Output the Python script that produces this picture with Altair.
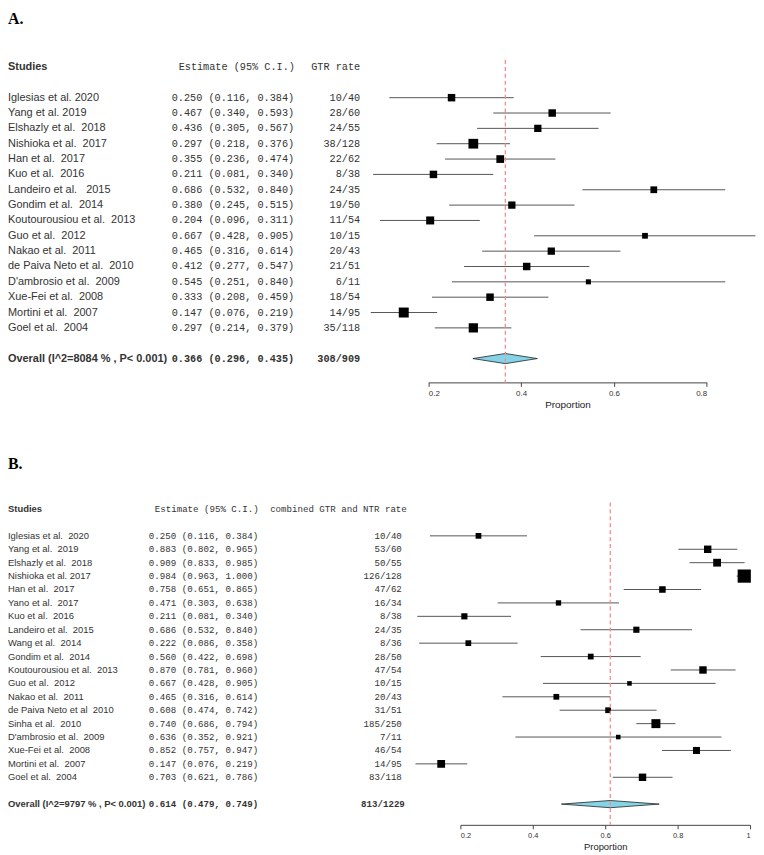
import altair as alt
import pandas as pd

NB = "\u00a0"

# ---------------- Panel A data (GTR rate) ----------------
a_studies = ["Iglesias et al. 2020", "Yang et al. 2019", "Elshazly et al." + NB + " 2018",
             "Nishioka et al." + NB + " 2017", "Han et al." + NB + " 2017", "Kuo et al." + NB + " 2016",
             "Landeiro et al." + NB + NB + " 2015", "Gondim et al." + NB + " 2014",
             "Koutourousiou et al." + NB + " 2013", "Guo et al." + NB + " 2012",
             "Nakao et al." + NB + " 2011", "de Paiva Neto et al." + NB + " 2010",
             "D'ambrosio et al." + NB + " 2009", "Xue-Fei et al." + NB + " 2008",
             "Mortini et al." + NB + " 2007", "Goel et al." + NB + " 2004"]
a_est = [0.250, 0.467, 0.436, 0.297, 0.355, 0.211, 0.686, 0.380, 0.204, 0.667, 0.465, 0.412, 0.545, 0.333, 0.147, 0.297]
a_lo = [0.116, 0.340, 0.305, 0.218, 0.236, 0.081, 0.532, 0.245, 0.096, 0.428, 0.316, 0.277, 0.251, 0.208, 0.076, 0.214]
a_hi = [0.384, 0.593, 0.567, 0.376, 0.474, 0.340, 0.840, 0.515, 0.311, 0.905, 0.614, 0.547, 0.840, 0.459, 0.219, 0.379]
a_events = [10, 28, 24, 38, 22, 8, 24, 19, 11, 10, 20, 21, 6, 18, 14, 35]
a_total = [40, 60, 55, 128, 62, 38, 35, 50, 54, 15, 43, 51, 11, 54, 95, 118]
a_weight = [5.9, 5.9, 5.6, 10.0, 6.3, 5.9, 4.8, 5.6, 6.8, 3.5, 5.6, 5.9, 2.7, 5.9, 10.5, 9.0]
a_overall_label = "Overall (I^2=8084 % , P< 0.001)"
a_overall_ci = [0.366, 0.296, 0.435]
a_overall_counts = [308, 909]

# ---------------- Panel B data (combined GTR and NTR rate) ----------------
b_studies = ["Iglesias et al." + NB + " 2020", "Yang et al." + NB + " 2019", "Elshazly et al." + NB + " 2018",
             "Nishioka et al. 2017", "Han et al." + NB + " 2017", "Yano et al." + NB + " 2017",
             "Kuo et al." + NB + " 2016", "Landeiro et al." + NB + " 2015", "Wang et al." + NB + " 2014",
             "Gondim et al." + NB + " 2014", "Koutourousiou et al." + NB + " 2013", "Guo et al." + NB + " 2012",
             "Nakao et al." + NB + " 2011", "de Paiva Neto et al" + NB + " 2010", "Sinha et al." + NB + " 2010",
             "D'ambrosio et al." + NB + " 2009", "Xue-Fei et al." + NB + " 2008", "Mortini et al." + NB + " 2007",
             "Goel et al." + NB + " 2004"]
b_est = [0.250, 0.883, 0.909, 0.984, 0.758, 0.471, 0.211, 0.686, 0.222, 0.560, 0.870, 0.667, 0.465, 0.608, 0.740, 0.636, 0.852, 0.147, 0.703]
b_lo = [0.116, 0.802, 0.833, 0.963, 0.651, 0.303, 0.081, 0.532, 0.086, 0.422, 0.781, 0.428, 0.316, 0.474, 0.686, 0.352, 0.757, 0.076, 0.621]
b_hi = [0.384, 0.965, 0.985, 1.000, 0.865, 0.638, 0.340, 0.840, 0.358, 0.698, 0.960, 0.905, 0.614, 0.742, 0.794, 0.921, 0.947, 0.219, 0.786]
b_events = [10, 53, 50, 126, 47, 16, 8, 24, 8, 28, 47, 10, 20, 31, 185, 7, 46, 14, 83]
b_total = [40, 60, 55, 128, 62, 34, 38, 35, 36, 50, 54, 15, 43, 51, 250, 11, 54, 95, 118]
b_weight = [3.5, 5.8, 6.4, 18.4, 4.5, 3.0, 4.0, 4.0, 3.5, 3.5, 5.8, 2.2, 3.5, 3.5, 8.5, 2.2, 5.2, 6.4, 5.8]
b_overall_label = "Overall (I^2=9797 % , P< 0.001)"
b_overall_ci = [0.614, 0.479, 0.749]
b_overall_counts = [813, 1229]

SANS = "Liberation Sans"
MONO = "Liberation Mono"
SERIF = "Liberation Serif"


def fmt_ci(e, l, h):
    return f"{e:.3f} ({l:.3f}, {h:.3f})"


def make_panel(studies, est, lo, hi, ev, tot, w, ov_label, ov_ci, ov_counts, letter,
               rate_header, L):
    n = len(studies)
    df = pd.DataFrame({
        "row": list(range(n)), "study": studies, "est": est, "lo": lo, "hi": hi,
        "w": w,
        "ci": [fmt_ci(e, l, h) for e, l, h in zip(est, lo, hi)],
        "rate": [f"{a}/{b}" for a, b in zip(ev, tot)],
    })
    ov_row = n + 1
    hdr_row = -2
    ov_df = pd.DataFrame({"row": [ov_row], "label": [ov_label],
                          "ci": [fmt_ci(*ov_ci)],
                          "rate": [f"{ov_counts[0]}/{ov_counts[1]}"],
                          "est": [ov_ci[0]]})
    hdr_df = pd.DataFrame({"row": [hdr_row], "studies": ["Studies"],
                           "est": ["Estimate (95% C.I.)"], "rate": [rate_header]})
    dh = L["dhalf"]
    dia_df = pd.DataFrame({"x": [ov_ci[1], ov_ci[0], ov_ci[2]],
                           "y": [ov_row, ov_row - dh, ov_row],
                           "y2": [ov_row, ov_row + dh, ov_row]})

    yscale = alt.Scale(domain=[0, n - 1], range=[L["y0"], L["y0"] + (n - 1) * L["dy"]],
                       nice=False, zero=False)
    xscale = alt.Scale(domain=L["xdom"], range=L["xrange"], nice=False, zero=False)
    axis = alt.Axis(values=L["ticks"], format="~g", grid=False, tickSize=4,
                    labelFontSize=L["lab_fs"], labelFont=SANS, labelColor="#333",
                    domainColor="#444", tickColor="#444", labelPadding=3,
                    title="Proportion", titleFont=SANS, titleFontSize=L["tit_fs"],
                    titleFontWeight="normal", titleColor="#222", titlePadding=2)

    def X(field):
        return alt.X(field, type="quantitative", scale=xscale, axis=axis)

    def Y(field):
        return alt.Y(field, type="quantitative", scale=yscale, axis=None)

    base = alt.Chart(df)
    ci_rules = base.mark_rule(color="#555", strokeWidth=1).encode(
        x=X("lo"), x2="hi", y=Y("row"))
    squares = base.mark_square(color="black", opacity=1).encode(
        x=X("est"), y=Y("row"),
        size=alt.Size("w:Q", scale=alt.Scale(domain=[0, max(w)], range=[0, L["smax"]]),
                      legend=None))
    diamond = alt.Chart(dia_df).mark_area(
        orient="vertical", color="#84d3e6", stroke="#222", strokeWidth=0.8
    ).encode(x=X("x"), y=Y("y"), y2="y2")
    refline = alt.Chart(ov_df).mark_rule(
        color="#f48c8c", strokeDash=[4, 3], strokeWidth=1.3
    ).encode(x=X("est"), y=alt.value(L["red_top"]), y2=alt.value(L["height"]))

    txt_kw = dict(baseline="middle", color="#333")
    names = base.mark_text(align="left", font=SANS, fontSize=L["name_fs"], **txt_kw).encode(
        x=alt.value(0), y=Y("row"), text="study")
    cis = base.mark_text(align="left", font=MONO, fontSize=L["mono_fs"], **txt_kw).encode(
        x=alt.value(L["est_x"]), y=Y("row"), text="ci")
    rates = base.mark_text(align="right", font=MONO, fontSize=L["mono_fs"], **txt_kw).encode(
        x=alt.value(L["rate_x"]), y=Y("row"), text="rate")

    ov = alt.Chart(ov_df)
    ov_name = ov.mark_text(align="left", font=SANS, fontSize=L["name_fs"], fontWeight="bold",
                           **txt_kw).encode(x=alt.value(0), y=Y("row"), text="label")
    ov_ci_t = ov.mark_text(align="left", font=MONO, fontSize=L["mono_fs"], fontWeight="bold",
                           **txt_kw).encode(x=alt.value(L["est_x"]), y=Y("row"), text="ci")
    ov_rate = ov.mark_text(align="right", font=MONO, fontSize=L["mono_fs"], fontWeight="bold",
                           **txt_kw).encode(x=alt.value(L["ov_rate_x"]), y=Y("row"), text="rate")

    hd = alt.Chart(hdr_df)
    h_st = hd.mark_text(align="left", font=SANS, fontSize=L["name_fs"], fontWeight="bold",
                        **txt_kw).encode(x=alt.value(0), y=Y("row"), text="studies")
    h_est = hd.mark_text(align="left", font=MONO, fontSize=L["mono_fs"], **txt_kw).encode(
        x=alt.value(L["est_hdr_x"]), y=Y("row"), text="est")
    h_rate = hd.mark_text(align="right", font=MONO, fontSize=L["mono_fs"], **txt_kw).encode(
        x=alt.value(L["rate_hdr_x"]), y=Y("row"), text="rate")

    let = alt.Chart(pd.DataFrame({"t": [letter]})).mark_text(
        align="left", baseline="top", font=SERIF, fontSize=16, fontWeight="bold", color="black"
    ).encode(x=alt.value(0), y=alt.value(L["letter_y"]), text="t")

    return alt.layer(ci_rules, squares, diamond, refline, names, cis, rates,
                     ov_name, ov_ci_t, ov_rate, h_st, h_est, h_rate, let).properties(
        width=748, height=L["height"])


LA = dict(height=374, y0=87, dy=15.47, dhalf=0.33, xdom=[0.2, 0.8],
          xrange=[423.7, 704.3], ticks=[0.2, 0.4, 0.6, 0.8], lab_fs=8, tit_fs=10,
          smax=177, red_top=49, name_fs=11, mono_fs=10.3, est_x=165, rate_x=355,
          ov_rate_x=355, est_hdr_x=172, rate_hdr_x=355, letter_y=0)
LB = dict(height=388, y0=96.7, dy=13.52, dhalf=0.27, xdom=[0.2, 1.0],
          xrange=[456, 748], ticks=[0.2, 0.4, 0.6, 0.8, 1.0], lab_fs=7.5, tit_fs=9.5,
          smax=114, red_top=63, name_fs=9.5, mono_fs=9.2, est_x=142, rate_x=397,
          ov_rate_x=400, est_hdr_x=148, rate_hdr_x=402, letter_y=16)

panel_a = make_panel(a_studies, a_est, a_lo, a_hi, a_events, a_total, a_weight,
                     a_overall_label, a_overall_ci, a_overall_counts, "A.", "GTR rate", LA)
panel_b = make_panel(b_studies, b_est, b_lo, b_hi, b_events, b_total, b_weight,
                     b_overall_label, b_overall_ci, b_overall_counts, "B.",
                     "combined GTR and NTR rate", LB)

chart = alt.vconcat(panel_a, panel_b, spacing=58, bounds="flush").properties(
    padding=0, background="white"
).configure_view(stroke=None)

chart.save("out.html", embed_options={"renderer": "svg", "actions": False})
